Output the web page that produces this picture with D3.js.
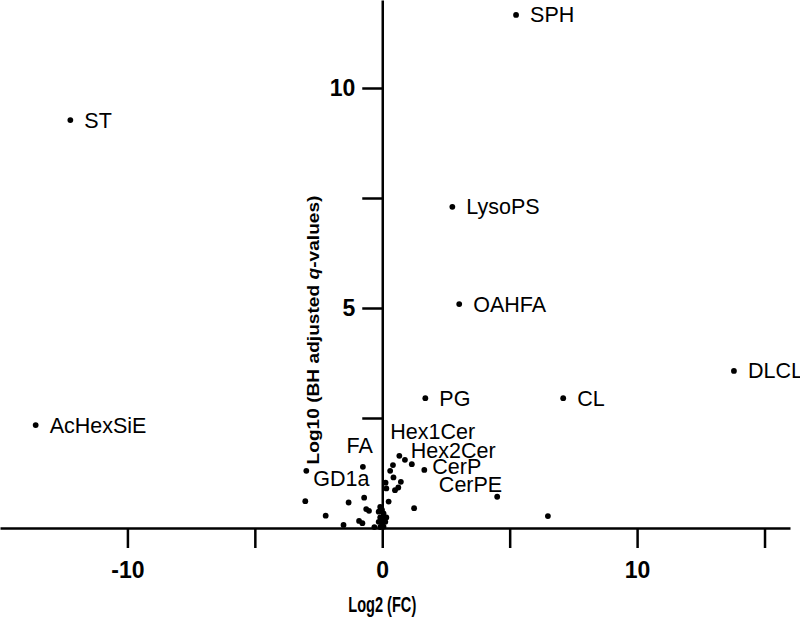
<!DOCTYPE html>
<html>
<head>
<meta charset="utf-8">
<script src="https://cdn.jsdelivr.net/npm/d3@7"></script>
<style>
  body { margin: 0; background: #fff; }
  svg { display: block; font-family: "Liberation Sans", Arial, sans-serif; }
</style>
</head>
<body>
<svg id="chart" width="800" height="619"></svg>
<script>
// labelled lipid classes
const names = ['SPH', 'ST', 'LysoPS', 'OAHFA', 'DLCL', 'PG', 'CL', 'AcHexSiE',
               'FA', 'GD1a', 'Hex1Cer', 'Hex2Cer', 'CerP', 'CerPE'];
const log2fc = [5.25, -12.24, 2.75, 3.02, 13.8, 1.69, 7.1, -13.6,
                -0.76, -2.98, 0.67, 1.16, 1.65, 4.51];
const log10q = [11.66, 9.27, 7.30, 5.09, 3.57, 2.95, 2.95, 2.34,
                1.39, 1.30, 1.64, 1.45, 1.32, 0.71];

// unlabelled points
const otherFC = [6.5, 0.89, 0.42, 0.31, 0.44, 0.73, 0.63, 0.50, 0.13, 0.16, 0.25, 1.25,
                 -3.02, -1.32, -0.71, -0.63, -0.52, -2.22, -0.91, -0.78, -1.52, -0.31,
                 -0.08, -0.01, -0.14, 0.05, -0.08, 0.16, -0.01, 0.12, -0.14, -0.01, 0.05, -0.08];
const otherQ = [0.27, 1.55, 1.43, 1.30, 1.15, 1.05, 0.92, 0.86, 1.03, 0.90, 0.60, 0.45,
                0.61, 0.58, 0.69, 0.43, 0.39, 0.28, 0.16, 0.11, 0.07, 0.02,
                0.48, 0.41, 0.37, 0.33, 0.24, 0.24, 0.18, 0.14, 0.14, 0.07, 0.03, 0.02];

const xTicks = [-10, -5, 0, 5, 10, 15];
const xTickLabels = [-10, 0, 10];
const yTicks = [2.5, 5, 7.5, 10];
const yTickLabels = [5, 10];

// label placement (pixels from the dot), default is right of the dot
const labelPos = {
  'FA':      { dx: 10, dy: -21, anchor: 'end' },
  'GD1a':    { dx: 7,  dy: 8 },
  'Hex1Cer': { dx: -9, dy: -24 },
  'Hex2Cer': { dx: -1, dy: -14 },
  'CerP':    { dx: 8,  dy: -3 },
  'CerPE':   { dx: 5,  dy: -12, anchor: 'end' }
};

const svg = d3.select('#chart');

const x = d3.scaleLinear().domain([-15, 16]).range([0, 790]);
const y = d3.scaleLinear().domain([0, 12]).range([528, 0]);

// axes through the origin
const xAxis = svg.append('g')
  .attr('transform', `translate(0,${y(0)})`)
  .call(d3.axisBottom(x)
    .tickValues(xTicks)
    .tickSize(20)
    .tickSizeOuter(0)
    .tickPadding(14)
    .tickFormat(d => xTickLabels.includes(d) ? d3.format('d')(d).replace('−', '-') : ''));

const yAxis = svg.append('g')
  .attr('transform', `translate(${x(0)},0)`)
  .call(d3.axisLeft(y)
    .tickValues(yTicks)
    .tickSize(20)
    .tickSizeOuter(0)
    .tickPadding(7)
    .tickFormat(d => yTickLabels.includes(d) ? d : ''));

[xAxis, yAxis].forEach(g => {
  g.selectAll('path, line').attr('stroke', '#000').attr('stroke-width', 2.5);
  g.selectAll('text')
    .attr('fill', '#000')
    .style('font-size', '23px')
    .style('font-weight', 'bold');
});

// axis titles
svg.append('text')
  .attr('x', x(0))
  .attr('y', 612)
  .attr('text-anchor', 'middle')
  .attr('textLength', 68)
  .attr('lengthAdjust', 'spacingAndGlyphs')
  .style('font-size', '22px')
  .style('font-weight', 'bold')
  .text('Log2 (FC)');

const yTitle = svg.append('text')
  .attr('transform', 'translate(319,330) rotate(-90)')
  .attr('text-anchor', 'middle')
  .attr('textLength', 269)
  .attr('lengthAdjust', 'spacingAndGlyphs')
  .style('font-size', '17px')
  .style('font-weight', 'bold');
yTitle.append('tspan').text('Log10 (BH adjusted ');
yTitle.append('tspan').style('font-style', 'italic').text('q');
yTitle.append('tspan').text('-values)');

// points
const others = otherFC.map((v, i) => ({ fc: v, q: otherQ[i] }));
const labelled = names.map((n, i) => ({ name: n, fc: log2fc[i], q: log10q[i] }));

svg.append('g')
  .selectAll('circle')
  .data(others.concat(labelled))
  .join('circle')
  .attr('cx', d => x(d.fc))
  .attr('cy', d => y(d.q))
  .attr('r', 2.9)
  .attr('fill', '#000');

svg.append('g')
  .selectAll('text')
  .data(labelled)
  .join('text')
  .attr('x', d => x(d.fc) + (labelPos[d.name] ? labelPos[d.name].dx : 14))
  .attr('y', d => y(d.q) + (labelPos[d.name] ? labelPos[d.name].dy : 0))
  .attr('dy', '0.35em')
  .attr('text-anchor', d => labelPos[d.name] && labelPos[d.name].anchor ? labelPos[d.name].anchor : 'start')
  .style('font-size', '21.5px')
  .attr('fill', '#000')
  .text(d => d.name);
</script>
</body>
</html>
